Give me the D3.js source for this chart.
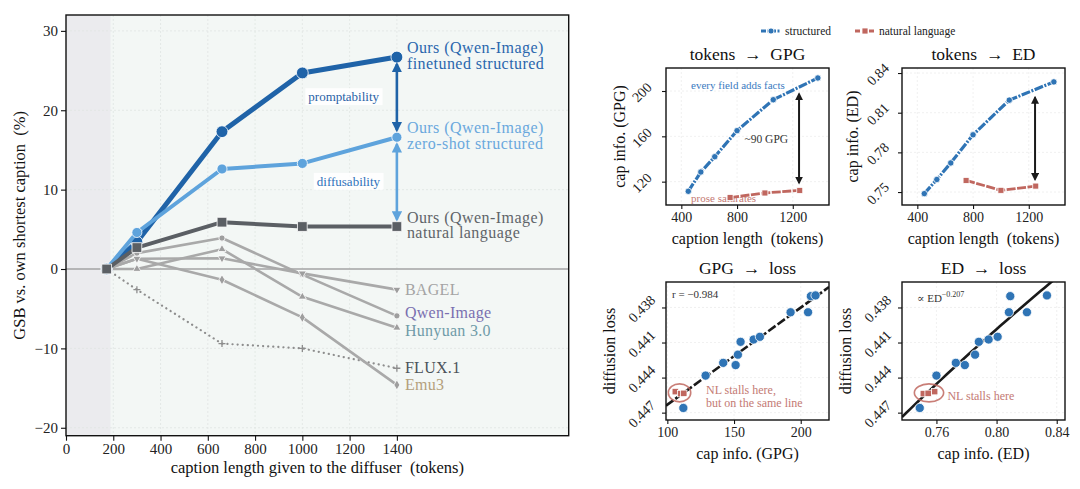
<!DOCTYPE html>
<html>
<head>
<meta charset="utf-8">
<script src="https://cdn.jsdelivr.net/npm/d3@7"></script>
<style>
  body { margin: 0; background: #fff; }
  text { font-family: "Liberation Serif", "DejaVu Serif", serif; }
</style>
</head>
<body>
<script>

// ---------------------------------------------------------------
// data : left panel (GSB vs caption length)
// ---------------------------------------------------------------
var tokens        = [172, 300, 660, 1000, 1400];
var finetunedGSB  = [0, 3.4, 17.3, 24.7, 26.7];
var zeroShotGSB   = [0, 4.6, 12.6, 13.3, 16.6];
var naturalGSB    = [0, 2.7, 5.9, 5.35, 5.35];
var bagelGSB      = [0, 1.3, 1.35, -0.55, -2.6];
var qwenGSB       = [0, 2.0, 3.9, -0.7, -5.9];
var hunyuanGSB    = [0, 0.0, 2.5, -3.5, -7.4];
var fluxGSB       = [0, -2.6, -9.4, -10.0, -12.5];
var emuGSB        = [0, 1.3, -1.35, -6.1, -14.6];
var shortestLimit = 188;   // tokens shaded as "shortest caption"

var gsbXTicks = [0, 200, 400, 600, 800, 1000, 1200, 1400];
var gsbYTicks = [-20, -10, 0, 10, 20, 30];

// ---------------------------------------------------------------
// data : right panels
// ---------------------------------------------------------------
var lenStruct   = [450, 540, 640, 800, 1060, 1380];
var gpgStruct   = [111.5, 128.5, 142, 165, 192.3, 211.5];
var edStruct    = [0.7488, 0.7595, 0.772, 0.7933, 0.8195, 0.8333];
var lenNatural  = [750, 1000, 1250];
var gpgNatural  = [106, 110, 112.3];
var edNatural   = [0.7588, 0.7513, 0.7545];

var scatGPG  = [112, 128.7, 141.9, 151.2, 152.9, 154.9, 164.7, 169.4, 192.4, 205.5, 207.6, 211.1];
var scatED   = [0.7489, 0.7600, 0.7729, 0.7789, 0.7857, 0.7882, 0.7947, 0.8007, 0.8082, 0.8202, 0.8091, 0.8335];
var scatLoss = [0.44660, 0.44383, 0.44274, 0.44293, 0.44204, 0.44094, 0.44074, 0.44051, 0.43841, 0.43841, 0.43703, 0.43697];
var natLoss  = [0.44520, 0.44537, 0.44535];

var gpgFitIntercept = 0.45463, gpgFitSlope = -8.31e-5, gpgR = -0.984;
var edFitScale = 0.42, edFitExp = -0.207;
var gapTokens = 1245;

var lenTicks  = [400, 800, 1200];
var gpgTicks  = [120, 160, 200];
var edTicks   = [0.75, 0.78, 0.81, 0.84];
var gpgXTicks = [100, 150, 200];
var edXTicks  = [0.76, 0.80, 0.84];
var lossTicks = [0.438, 0.441, 0.444, 0.447];

// ---------------------------------------------------------------
// colours
// ---------------------------------------------------------------
var cFine = "#1f63a8", cZero = "#5ea3dc", cNat = "#5b5f64", cGrey = "#a9a9a9";
var cStruct = "#2f74b5", cProse = "#c0675f", cProseText = "#c47a74";

var svg = d3.select('body').append('svg')
  .attr('width', 1080)
  .attr('height', 489);

var defs = svg.append('defs');

function arrowHead(id, color) {
  defs.append('marker')
    .attr('id', id)
    .attr('viewBox', '0 0 10 10')
    .attr('refX', 8).attr('refY', 5)
    .attr('markerWidth', 4).attr('markerHeight', 4)
    .attr('orient', 'auto-start-reverse')
    .append('path')
    .attr('d', 'M0,0 L10,5 L0,10 z')
    .attr('fill', color);
}
arrowHead('ahFine', cFine);
arrowHead('ahZero', cZero);
arrowHead('ahBlack', '#1a1a1a');

// ===============================================================
// LEFT PANEL
// ===============================================================
var L = { x0: 66, x1: 568.7, y0: 15, y1: 435.7 };
var xL = d3.scaleLinear().domain([0, 2127]).range([L.x0, L.x1]);
var yL = d3.scaleLinear().domain([-21, 32]).range([L.y1, L.y0]);

svg.append('rect')
  .attr('x', L.x0).attr('y', L.y0)
  .attr('width', L.x1 - L.x0).attr('height', L.y1 - L.y0)
  .attr('fill', '#f3f7f5');
svg.append('rect')
  .attr('x', L.x0).attr('y', L.y0)
  .attr('width', xL(shortestLimit) - L.x0).attr('height', L.y1 - L.y0)
  .attr('fill', '#ebebee');

// faint dotted grid
svg.append('g').selectAll('line').data(gsbXTicks.slice(1)).enter().append('line')
  .attr('x1', d => xL(d)).attr('x2', d => xL(d))
  .attr('y1', L.y0).attr('y2', L.y1)
  .attr('stroke', '#dfe5e2').attr('stroke-width', 0.8)
  .attr('stroke-dasharray', '2,2');
svg.append('g').selectAll('line').data(gsbYTicks.filter(d => d != 0)).enter().append('line')
  .attr('x1', L.x0).attr('x2', L.x1)
  .attr('y1', d => yL(d)).attr('y2', d => yL(d))
  .attr('stroke', '#dfe5e2').attr('stroke-width', 0.8)
  .attr('stroke-dasharray', '2,2');

// zero reference
svg.append('line')
  .attr('x1', L.x0).attr('x2', L.x1)
  .attr('y1', yL(0)).attr('y2', yL(0))
  .attr('stroke', '#a3a3a3').attr('stroke-width', 1.3);

var lineL = d3.line().x((d, i) => xL(tokens[i])).y(d => yL(d));

function drawSeries(vals, color, width, dash) {
  svg.append('path')
    .attr('d', lineL(vals))
    .attr('fill', 'none')
    .attr('stroke', color)
    .attr('stroke-width', width)
    .attr('stroke-linejoin', 'round')
    .attr('stroke-linecap', dash ? 'round' : 'butt')
    .attr('stroke-dasharray', dash || null);
}

function drawSymbols(vals, type, size, color, rot) {
  svg.append('g').selectAll('path').data(vals).enter().append('path')
    .attr('d', d3.symbol().type(type).size(size))
    .attr('transform', (d, i) => 'translate(' + xL(tokens[i]) + ',' + yL(d) + ')' + (rot ? ' rotate(' + rot + ')' : ''))
    .attr('fill', color)
    .attr('stroke', 'white')
    .attr('stroke-width', 0.8);
}

// grey baselines
drawSeries(fluxGSB, '#8d8d8d', 2.2, '0.1,5');
svg.append('g').selectAll('path').data(fluxGSB.slice(1)).enter().append('path')
  .attr('d', (d, i) => {
    var cx = xL(tokens[i + 1]), cy = yL(d);
    return 'M' + (cx - 3.5) + ',' + cy + 'H' + (cx + 3.5) + 'M' + cx + ',' + (cy - 3.5) + 'V' + (cy + 3.5);
  })
  .attr('stroke', '#8d8d8d').attr('stroke-width', 1.3);

drawSeries(emuGSB, cGrey, 2.6);
drawSymbols(emuGSB, d3.symbolDiamond, 30, '#9e9e9e');
drawSeries(hunyuanGSB, cGrey, 2.6);
drawSymbols(hunyuanGSB, d3.symbolTriangle, 28, '#9e9e9e');
drawSeries(qwenGSB, cGrey, 2.6);
drawSymbols(qwenGSB, d3.symbolCircle, 30, '#9e9e9e');
drawSeries(bagelGSB, cGrey, 2.6);
drawSymbols(bagelGSB, d3.symbolTriangle, 28, '#9e9e9e', 180);

// ours
drawSeries(finetunedGSB, cFine, 5);
drawSymbols(finetunedGSB, d3.symbolCircle, 110, cFine);
drawSeries(zeroShotGSB, cZero, 4);
drawSymbols(zeroShotGSB, d3.symbolCircle, 80, cZero);
drawSeries(naturalGSB, cNat, 4);
drawSymbols(naturalGSB, d3.symbolSquare, 95, cNat);

// gap arrows
var xEnd = xL(tokens[4]);
function gapArrow(v0, v1, color, id, width) {
  svg.append('line')
    .attr('x1', xEnd).attr('x2', xEnd)
    .attr('y1', yL(v0) + 7).attr('y2', yL(v1) - 7)
    .attr('stroke', color).attr('stroke-width', width)
    .attr('marker-start', 'url(#' + id + ')')
    .attr('marker-end', 'url(#' + id + ')');
}
gapArrow(finetunedGSB[4], zeroShotGSB[4], cFine, 'ahFine', 2.6);
gapArrow(zeroShotGSB[4], naturalGSB[4], cZero, 'ahZero', 2.6);

function boxedLabel(txt, x, y, color) {
  var t = svg.append('text')
    .attr('x', x).attr('y', y)
    .attr('text-anchor', 'middle')
    .attr('font-size', 13)
    .attr('fill', color)
    .text(txt);
  var b = t.node().getBBox();
  svg.insert('rect', function() { return t.node(); })
    .attr('x', b.x - 3).attr('y', b.y - 1)
    .attr('width', b.width + 6).attr('height', b.height + 2)
    .attr('fill', 'white').attr('opacity', 0.85);
}
boxedLabel('promptability', xL(1175), (yL(finetunedGSB[4]) + yL(zeroShotGSB[4])) / 2 + 4, '#2a62a6');
boxedLabel('diffusability', xL(1195), (yL(zeroShotGSB[4]) + yL(naturalGSB[4])) / 2 + 4, '#2e72bb');

// right-hand labels (two separate lines each)
var labelX = xEnd + 10;
[[finetunedGSB, 'finetuned structured', '#2a66ad'],
 [zeroShotGSB, 'zero-shot structured', '#6aa8dd'],
 [naturalGSB, 'natural language', '#5f6469']].forEach(function(s) {
  var y = yL(s[0][4]);
  svg.append('text')
    .attr('x', labelX).attr('y', y - 4)
    .attr('font-size', 16).attr('letter-spacing', 0.45)
    .attr('fill', s[2])
    .text('Ours (Qwen-Image)');
  svg.append('text')
    .attr('x', labelX).attr('y', y + 11.5)
    .attr('font-size', 16).attr('letter-spacing', 0.45)
    .attr('fill', s[2])
    .text(s[1]);
});

var others = [
  { name: 'BAGEL',       v: bagelGSB[4],   color: '#a4a4a4' },
  { name: 'Qwen-Image',  v: qwenGSB[4],    color: '#7a6fb0' },
  { name: 'Hunyuan 3.0', v: hunyuanGSB[4], color: '#6f9ba8' },
  { name: 'FLUX.1',      v: fluxGSB[4],    color: '#4b5259' },
  { name: 'Emu3',        v: emuGSB[4],     color: '#b3a07c' }
];
others.forEach(d => d.y = yL(d.v));
for (var it = 0; it < 30; it++) {
  for (var k = 1; k < others.length; k++) {
    var gap = others[k].y - others[k - 1].y;
    if (gap < 17.5) {
      var push = (17.5 - gap) / 2;
      others[k].y += push;
      others[k - 1].y -= push;
    }
  }
}
svg.append('g').selectAll('text').data(others).enter().append('text')
  .attr('x', labelX - 2).attr('y', d => d.y + 5)
  .attr('font-size', 16).attr('letter-spacing', 0.3)
  .attr('fill', d => d.color)
  .text(d => d.name);

// frame + axes
svg.append('rect')
  .attr('x', L.x0).attr('y', L.y0)
  .attr('width', L.x1 - L.x0).attr('height', L.y1 - L.y0)
  .attr('fill', 'none').attr('stroke', '#111').attr('stroke-width', 1.4);

var axL = svg.append('g')
  .attr('transform', 'translate(0,' + L.y1 + ')')
  .call(d3.axisBottom(xL).tickValues(gsbXTicks).tickSize(5).tickPadding(3).tickFormat(d3.format('d')));
var ayL = svg.append('g')
  .attr('transform', 'translate(' + L.x0 + ',0)')
  .call(d3.axisLeft(yL).tickValues(gsbYTicks).tickSize(5).tickPadding(3));
[axL, ayL].forEach(function(a) {
  a.select('.domain').remove();
  a.selectAll('line').attr('stroke', '#111').attr('stroke-width', 1.1);
  a.selectAll('text').attr('font-size', 15).attr('fill', '#222')
    .style('font-family', '"Liberation Serif", serif');
});

svg.append('text')
  .attr('x', (L.x0 + L.x1) / 2).attr('y', 473)
  .attr('text-anchor', 'middle').attr('font-size', 16.5).attr('fill', '#111')
  .text('caption length given to the diffuser\u2002(tokens)');
svg.append('text')
  .attr('transform', 'translate(25,' + (L.y0 + L.y1) / 2 + ') rotate(-90)')
  .attr('text-anchor', 'middle').attr('font-size', 16.5).attr('fill', '#111')
  .text('GSB vs. own shortest caption\u2002(%)');

// ===============================================================
// RIGHT PANELS
// ===============================================================
var clipCount = 0;
function panel(box, xDom, yDom, xTicks, yTicks, xFmt, yFmt, invertY, title, xLabel, yLabel, yLabelX) {
  var x = d3.scaleLinear().domain(xDom).range([box.x, box.x + box.w]);
  var y = d3.scaleLinear().domain(yDom).range(invertY ? [box.y, box.y + box.h] : [box.y + box.h, box.y]);
  var g = svg.append('g');

  g.append('rect')
    .attr('x', box.x).attr('y', box.y).attr('width', box.w).attr('height', box.h)
    .attr('fill', 'white');
  g.selectAll('.gx').data(xTicks).enter().append('line')
    .attr('x1', d => x(d)).attr('x2', d => x(d))
    .attr('y1', box.y).attr('y2', box.y + box.h)
    .attr('stroke', '#ececec').attr('stroke-width', 0.8).attr('stroke-dasharray', '2,2');
  g.selectAll('.gy').data(yTicks).enter().append('line')
    .attr('x1', box.x).attr('x2', box.x + box.w)
    .attr('y1', d => y(d)).attr('y2', d => y(d))
    .attr('stroke', '#ececec').attr('stroke-width', 0.8).attr('stroke-dasharray', '2,2');

  var id = 'clip' + (clipCount++);
  defs.append('clipPath').attr('id', id).append('rect')
    .attr('x', box.x).attr('y', box.y).attr('width', box.w).attr('height', box.h);
  var plot = svg.append('g').attr('clip-path', 'url(#' + id + ')');

  var ax = svg.append('g')
    .attr('transform', 'translate(0,' + (box.y + box.h) + ')')
    .call(d3.axisBottom(x).tickValues(xTicks).tickSize(4).tickPadding(3).tickFormat(xFmt));
  var ay = svg.append('g')
    .attr('transform', 'translate(' + box.x + ',0)')
    .call(d3.axisLeft(y).tickValues(yTicks).tickSize(4).tickFormat(yFmt));
  [ax, ay].forEach(function(a) {
    a.select('.domain').remove();
    a.selectAll('line').attr('stroke', '#111').attr('stroke-width', 1.1);
    a.selectAll('text').attr('font-size', 14).attr('fill', '#222')
      .style('font-family', '"Liberation Serif", serif');
  });
  ay.selectAll('text')
    .attr('x', null).attr('dy', null)
    .attr('text-anchor', 'middle')
    .attr('dominant-baseline', 'central')
    .attr('transform', 'translate(-24,1) rotate(-45)');

  svg.append('text')
    .attr('x', box.x + box.w / 2).attr('y', box.y - 8)
    .attr('text-anchor', 'middle').attr('font-size', 17.5).attr('fill', '#111')
    .text(title);
  svg.append('text')
    .attr('x', box.x + box.w / 2).attr('y', box.y + box.h + 39)
    .attr('text-anchor', 'middle').attr('font-size', 16).attr('fill', '#111')
    .text(xLabel);
  svg.append('text')
    .attr('transform', 'translate(' + yLabelX + ',' + (box.y + box.h / 2) + ') rotate(-90)')
    .attr('text-anchor', 'middle').attr('font-size', 16).attr('fill', '#111')
    .text(yLabel);

  return { x: x, y: y, plot: plot, box: box };
}

function frame(p) {
  svg.append('rect')
    .attr('x', p.box.x).attr('y', p.box.y).attr('width', p.box.w).attr('height', p.box.h)
    .attr('fill', 'none').attr('stroke', '#111').attr('stroke-width', 1.4);
}

function curve(p, xs, ys, color, width, dash) {
  p.plot.append('path')
    .attr('d', d3.line().x((d, i) => p.x(xs[i])).y(d => p.y(d))(ys))
    .attr('fill', 'none').attr('stroke', color).attr('stroke-width', width)
    .attr('stroke-dasharray', dash);
}
function dots(p, xs, ys, color, r) {
  p.plot.append('g').selectAll('circle').data(ys).enter().append('circle')
    .attr('cx', (d, i) => p.x(xs[i])).attr('cy', d => p.y(d)).attr('r', r)
    .attr('fill', color).attr('stroke', 'white').attr('stroke-width', 0.8);
}
function squares(p, xs, ys, color, s) {
  p.plot.append('g').selectAll('rect').data(ys).enter().append('rect')
    .attr('x', (d, i) => p.x(xs[i]) - s / 2).attr('y', d => p.y(d) - s / 2)
    .attr('width', s).attr('height', s)
    .attr('fill', color).attr('stroke', 'white').attr('stroke-width', 0.8);
}
function gapLine(p, xv, v0, v1) {
  p.plot.append('line')
    .attr('x1', p.x(xv)).attr('x2', p.x(xv))
    .attr('y1', p.y(v0)).attr('y2', p.y(v1))
    .attr('stroke', '#1a1a1a').attr('stroke-width', 2)
    .attr('marker-start', 'url(#ahBlack)').attr('marker-end', 'url(#ahBlack)');
}

var f2 = d3.format('.2f'), f3 = d3.format('.3f'), fi = d3.format('d');
var structDash = '9,1.5,2,1.5', proseDash = '9,1.5';
var arrowTxt = '\u2002\u2192\u2002';

// ---- tokens -> GPG
var p1 = panel({ x: 666, y: 68, w: 163, h: 137 }, [290, 1460], [99.4, 220.3],
  lenTicks, gpgTicks, fi, fi, false, 'tokens' + arrowTxt + 'GPG', 'caption length\u2002(tokens)', 'cap info. (GPG)', 625);
p1.plot.append('text').attr('x', p1.x(470)).attr('y', p1.y(201.5))
  .attr('font-size', 11).attr('fill', '#3a7bbf').text('every field adds facts');
p1.plot.append('text').attr('x', p1.x(470)).attr('y', p1.y(102))
  .attr('font-size', 11).attr('fill', cProseText).text('prose saturates');
curve(p1, lenStruct, gpgStruct, cStruct, 3.2, structDash);
dots(p1, lenStruct, gpgStruct, cStruct, 3.2);
curve(p1, lenNatural, gpgNatural, cProse, 2.8, proseDash);
squares(p1, lenNatural, gpgNatural, cProse, 6);
gapLine(p1, gapTokens, 197.5, 118.8);
p1.plot.append('text').attr('x', p1.x(1010)).attr('y', p1.y(154.5))
  .attr('text-anchor', 'middle').attr('font-size', 11.5).attr('fill', '#333').text('~90 GPG');
frame(p1);

// ---- tokens -> ED
var p2 = panel({ x: 902, y: 68, w: 163, h: 137 }, [290, 1460], [0.7402, 0.8438],
  lenTicks, edTicks, fi, f2, false, 'tokens' + arrowTxt + 'ED', 'caption length\u2002(tokens)', 'cap info. (ED)', 858);
curve(p2, lenStruct, edStruct, cStruct, 3.2, structDash);
dots(p2, lenStruct, edStruct, cStruct, 3.2);
curve(p2, lenNatural, edNatural, cProse, 2.8, proseDash);
squares(p2, lenNatural, edNatural, cProse, 6);
gapLine(p2, gapTokens, 0.8216, 0.7595);
frame(p2);

// ---- GPG -> loss
var p3 = panel({ x: 666, y: 282, w: 163, h: 138 }, [99, 221.2], [0.43582, 0.44763],
  gpgXTicks, lossTicks, fi, f3, true, 'GPG' + arrowTxt + 'loss', 'cap info. (GPG)', 'diffusion loss', 615);
p3.plot.append('path')
  .attr('d', d3.line().x(d => p3.x(d)).y(d => p3.y(gpgFitIntercept + gpgFitSlope * d))(p3.x.domain()))
  .attr('fill', 'none').attr('stroke', '#1a1a1a').attr('stroke-width', 2.6)
  .attr('stroke-dasharray', '9,2.5');
dots(p3, scatGPG, scatLoss, cStruct, 4.6);
squares(p3, gpgNatural, natLoss, cProse, 6.5);

function nlRing(p, xs, ys, pad) {
  var px = xs.map(p.x), py = ys.map(p.y);
  p.plot.append('ellipse')
    .attr('cx', (d3.min(px) + d3.max(px)) / 2)
    .attr('cy', d3.mean(py))
    .attr('rx', (d3.max(px) - d3.min(px)) / 2 + pad)
    .attr('ry', 9)
    .attr('fill', 'none').attr('stroke', cProse).attr('stroke-width', 1.6).attr('opacity', 0.85);
}
nlRing(p3, gpgNatural, natLoss, 7);
p3.plot.append('text').attr('x', p3.box.x + 6).attr('y', p3.box.y + 16)
  .attr('font-size', 11).attr('fill', '#333').text('r = ' + d3.format('.3f')(gpgR));
var nlT = p3.plot.append('text').attr('font-size', 12).attr('fill', cProseText);
nlT.append('tspan').attr('x', p3.x(129)).attr('y', p3.y(0.44537)).text('NL stalls here,');
nlT.append('tspan').attr('x', p3.x(129)).attr('dy', 13).text('but on the same line');
frame(p3);

// ---- ED -> loss
var p4 = panel({ x: 902, y: 282, w: 163, h: 138 }, [0.7371, 0.8455], [0.43582, 0.44763],
  edXTicks, lossTicks, f2, f3, true, 'ED' + arrowTxt + 'loss', 'cap info. (ED)', 'diffusion loss', 851);
var edGrid = d3.range(0, 41).map(i => p4.x.domain()[0] + i * (p4.x.domain()[1] - p4.x.domain()[0]) / 40);
p4.plot.append('path')
  .attr('d', d3.line().x(d => p4.x(d)).y(d => p4.y(edFitScale * Math.pow(d, edFitExp)))(edGrid))
  .attr('fill', 'none').attr('stroke', '#1a1a1a').attr('stroke-width', 2.6);
dots(p4, scatED, scatLoss, cStruct, 4.6);
squares(p4, edNatural, natLoss, cProse, 6.5);
nlRing(p4, edNatural, natLoss, 9);
var pw = p4.plot.append('text').attr('x', p4.box.x + 15).attr('y', p4.box.y + 20)
  .attr('font-size', 11).attr('fill', '#333');
pw.append('tspan').text('\u221d ED');
pw.append('tspan').attr('dy', -5).attr('font-size', 8).text(d3.format('.3f')(edFitExp));
p4.plot.append('text').attr('x', p4.x(0.7673)).attr('y', p4.y(0.4459))
  .attr('font-size', 12).attr('fill', cProseText).text('NL stalls here');
frame(p4);

// ---- shared legend
var lg = svg.append('g').attr('transform', 'translate(0,31)');
lg.append('line').attr('x1', 761).attr('x2', 781).attr('y1', 0).attr('y2', 0)
  .attr('stroke', cStruct).attr('stroke-width', 3.2).attr('stroke-dasharray', '5,1.5,2,1.5');
lg.append('circle').attr('cx', 771).attr('cy', 0).attr('r', 3)
  .attr('fill', cStruct).attr('stroke', 'white').attr('stroke-width', 0.8);
lg.append('text').attr('x', 785).attr('y', 4).attr('font-size', 11.5).attr('fill', '#222').text('structured');
lg.append('line').attr('x1', 855).attr('x2', 875).attr('y1', 0).attr('y2', 0)
  .attr('stroke', cProse).attr('stroke-width', 2.8).attr('stroke-dasharray', '5,2');
lg.append('rect').attr('x', 862).attr('y', -3).attr('width', 6).attr('height', 6)
  .attr('fill', cProse).attr('stroke', 'white').attr('stroke-width', 0.8);
lg.append('text').attr('x', 879).attr('y', 4).attr('font-size', 11.5).attr('fill', '#222').text('natural language');

</script>
</body>
</html>
